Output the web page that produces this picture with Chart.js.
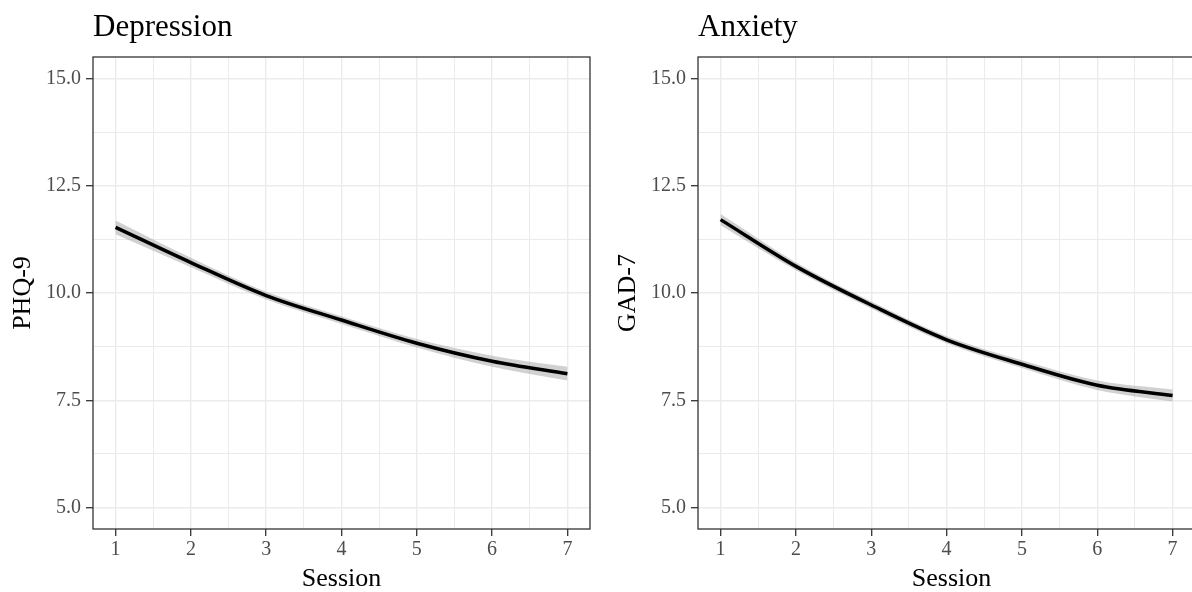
<!DOCTYPE html>
<html>
<head>
<meta charset="utf-8">
<script src="https://cdn.jsdelivr.net/npm/chart.js@4.4.0/dist/chart.umd.min.js"></script>
<style>
  html, body { margin: 0; padding: 0; background: #fff; overflow: hidden; }
  body { width: 1192px; height: 592px; position: relative; }
  canvas { position: absolute; top: 0; }
  #depChart { left: 0; }
  #anxChart { left: 605px; }
</style>
</head>
<body>
<canvas id="depChart" width="596" height="592"></canvas>
<canvas id="anxChart" width="600" height="592"></canvas>
<script>
// Data
const sessions = [1, 2, 3, 4, 5, 6, 7];

const depMean  = [11.53, 10.71, 9.94, 9.37, 8.83, 8.41, 8.12];
const depLower = [11.37, 10.60, 9.85, 9.28, 8.73, 8.28, 7.96];
const depUpper = [11.69, 10.82, 10.03, 9.46, 8.93, 8.54, 8.28];

const anxMean  = [11.71, 10.62, 9.72, 8.91, 8.34, 7.85, 7.61];
const anxLower = [11.58, 10.53, 9.64, 8.83, 8.25, 7.74, 7.47];
const anxUpper = [11.84, 10.71, 9.80, 8.99, 8.43, 7.96, 7.75];

const xTicks = [1, 1.5, 2, 2.5, 3, 3.5, 4, 4.5, 5, 5.5, 6, 6.5, 7];
const yMajor = [5, 7.5, 10, 12.5, 15];
const yTicks = [5, 6.25, 7.5, 8.75, 10, 11.25, 12.5, 13.75, 15];

const SERIF = '"Liberation Serif", "Times New Roman", serif';

// Panel title drawn at the left edge of the plot area
const panelTitle = {
    id: 'panelTitle',
    afterDraw(chart, args, opts) {
        const ctx = chart.ctx;
        ctx.save();
        ctx.font = '31px ' + SERIF;
        ctx.fillStyle = '#000';
        ctx.textAlign = 'left';
        ctx.textBaseline = 'alphabetic';
        ctx.fillText(opts.text, chart.chartArea.left, 36);
        ctx.restore();
    }
};

// Panel border (all four sides)
const panelFrame = {
    id: 'panelFrame',
    afterDraw(chart) {
        const { ctx, chartArea: a } = chart;
        ctx.save();
        ctx.strokeStyle = '#333333';
        ctx.lineWidth = 1.3;
        ctx.strokeRect(a.left, a.top, a.right - a.left, a.bottom - a.top);
        ctx.restore();
    }
};

function toPoints(ys) {
    return sessions.map((s, i) => ({ x: s, y: ys[i] }));
}

// The right panel runs past the page edge, so its plot area is cut off on the right
function makeChart(id, title, yLabel, mean, lower, upper, xMax, padRight) {
    const ctx = document.getElementById(id).getContext('2d');
    return new Chart(ctx, {
        type: 'line',
        data: {
            datasets: [
                {
                    data: toPoints(upper),
                    borderWidth: 0,
                    pointRadius: 0,
                    backgroundColor: 'rgba(153,153,153,0.45)',
                    fill: '+1',
                    cubicInterpolationMode: 'monotone',
                    order: 2
                },
                {
                    data: toPoints(lower),
                    borderWidth: 0,
                    pointRadius: 0,
                    fill: false,
                    cubicInterpolationMode: 'monotone',
                    order: 2
                },
                {
                    data: toPoints(mean),
                    borderColor: '#000',
                    borderWidth: 3.5,
                    pointRadius: 0,
                    fill: false,
                    cubicInterpolationMode: 'monotone',
                    order: 1
                }
            ]
        },
        options: {
            responsive: false,
            animation: false,
            layout: { padding: { top: 57, right: padRight, bottom: 0, left: 0 } },
            plugins: {
                legend: { display: false },
                tooltip: { enabled: false },
                panelTitle: { text: title }
            },
            scales: {
                x: {
                    type: 'linear',
                    min: 0.7,
                    max: xMax,
                    afterBuildTicks: s => { s.ticks = xTicks.map(v => ({ value: v })); },
                    afterFit: s => { s.height = 63; },
                    border: { display: false },
                    grid: {
                        color: '#ebebeb',
                        lineWidth: c => Number.isInteger(c.tick.value) ? 1.4 : 1,
                        tickColor: c => Number.isInteger(c.tick.value) ? '#333333' : 'rgba(0,0,0,0)',
                        tickLength: 7,
                        tickWidth: 1.3
                    },
                    ticks: {
                        autoSkip: false,
                        maxRotation: 0,
                        padding: 2,
                        color: '#4d4d4d',
                        font: { family: SERIF, size: 20 },
                        callback: v => Number.isInteger(v) ? String(v) : ''
                    },
                    title: {
                        display: true,
                        text: 'Session',
                        color: '#000',
                        padding: { top: 0, bottom: 0 },
                        font: { family: SERIF, size: 26, lineHeight: 1 }
                    }
                },
                y: {
                    min: 4.5,
                    max: 15.5,
                    afterBuildTicks: s => { s.ticks = yTicks.map(v => ({ value: v })); },
                    afterFit: s => { s.width = 93; },
                    border: { display: false },
                    grid: {
                        color: '#ebebeb',
                        lineWidth: c => yMajor.includes(c.tick.value) ? 1.4 : 1,
                        tickColor: c => yMajor.includes(c.tick.value) ? '#333333' : 'rgba(0,0,0,0)',
                        tickLength: 7,
                        tickWidth: 1.3
                    },
                    ticks: {
                        autoSkip: false,
                        padding: 5,
                        color: '#4d4d4d',
                        font: { family: SERIF, size: 20 },
                        callback: v => yMajor.includes(v) ? v.toFixed(1) : ''
                    },
                    title: {
                        display: true,
                        text: yLabel,
                        color: '#000',
                        padding: { top: 10, bottom: 0 },
                        font: { family: SERIF, size: 26, lineHeight: 1 }
                    }
                }
            }
        },
        plugins: [panelTitle, panelFrame]
    });
}

makeChart('depChart', 'Depression', 'PHQ-9', depMean, depLower, depUpper, 7.3, 6);
makeChart('anxChart', 'Anxiety', 'GAD-7', anxMean, anxLower, anxUpper, 7.43, 0);
</script>
</body>
</html>
